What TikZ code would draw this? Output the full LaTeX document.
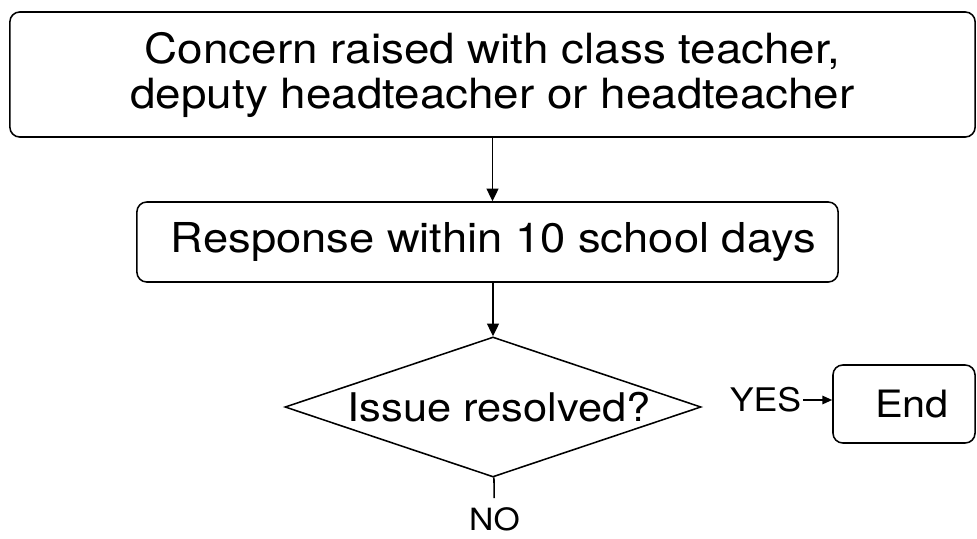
\documentclass[tikz,border=0pt]{standalone}
\usepackage{fontspec}
\setmainfont{TeX Gyre Heros}[FakeStretch=1.1]
\usetikzlibrary{shapes.geometric,arrows.meta}
\begin{document}
\begin{tikzpicture}[x=0.025cm,y=-0.025cm,line width=1.1pt,>={Triangle[length=9pt,width=8.5pt]},
  box/.style={draw,rounded corners=7pt,align=center,inner sep=0pt},
  decision/.style={draw,diamond,inner sep=0pt,minimum width=10.4cm,minimum height=3.5cm}]
\useasboundingbox (0,0) rectangle (977,538);
\path
node[box,minimum width=24.125cm,minimum height=3.125cm,font=\fontsize{29.6}{32}\selectfont] (concern) at (492.5,74.5)
  {Concern raised with class teacher,\\deputy headteacher or headteacher}
node[box,minimum width=17.525cm,minimum height=2cm,font=\fontsize{29.3}{34}\selectfont] (response) at (487.5,242)
  {\hspace{0.3cm}Response within 10 school days}
node[decision,font=\fontsize{28.1}{32}\selectfont] (resolved) at (493,407)
  {\makebox[0pt]{\hspace{0.3cm}Issue resolved?}}
node[font=\fontsize{23.1}{27}\selectfont,inner sep=1pt] (yes) at (765.5,400) {YES}
node[box,minimum width=3.55cm,minimum height=1.95cm,font=\fontsize{26.8}{32}\selectfont] (end) at (904,404)
  {\hspace{0.4cm}End}
node[font=\fontsize{21.8}{26}\selectfont,inner xsep=1pt,inner ysep=6pt] (no) at (494.5,519) {NO};
\draw[->] (concern) -- (concern |- response.north);
\draw[->] (response.south -| resolved) -- (resolved);
\draw[->,>={Triangle[length=7pt,width=6pt]}] (yes.east) -- (yes.east -| end.west);
\draw (resolved) -- (no);
\end{tikzpicture}
\end{document}
